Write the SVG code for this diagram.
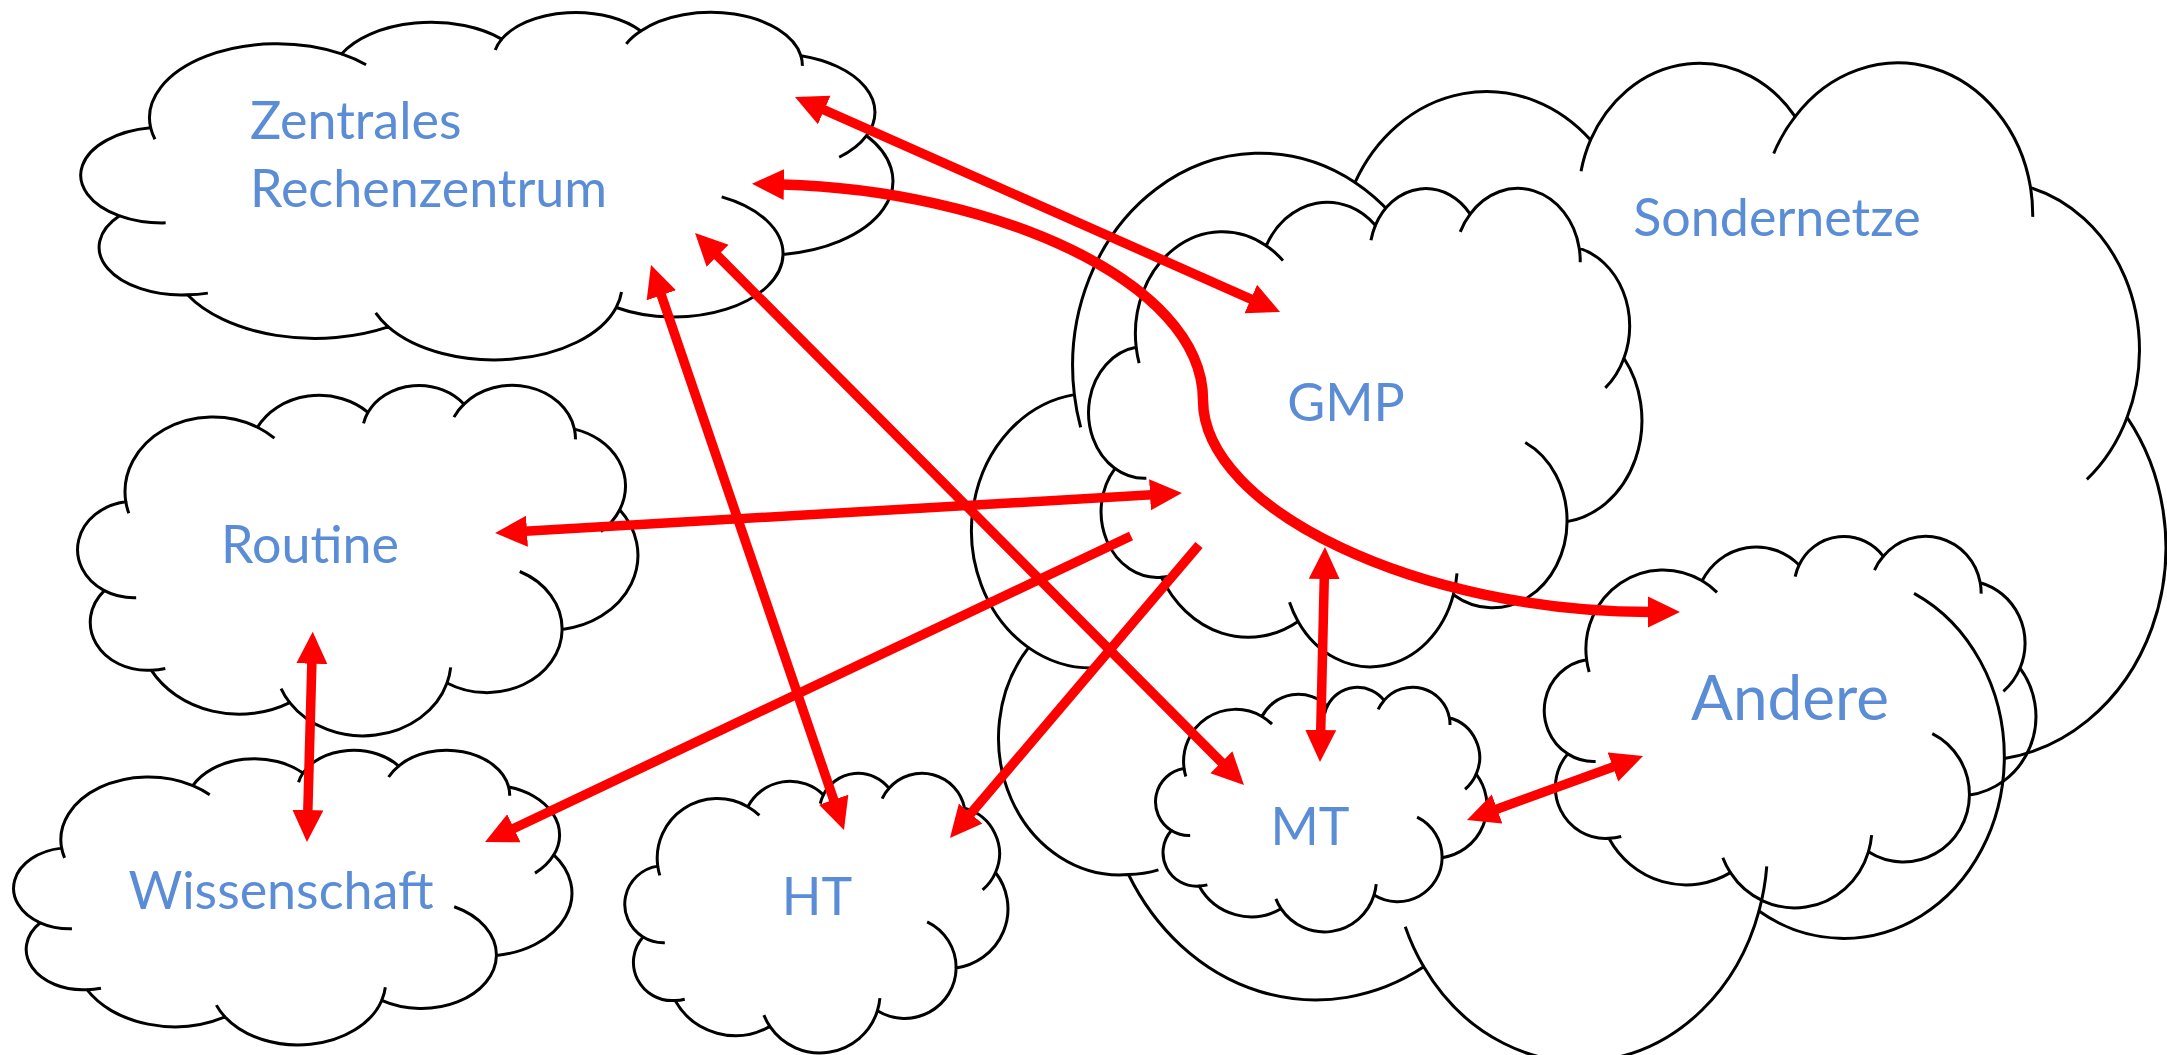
<svg xmlns="http://www.w3.org/2000/svg" width="2167" height="1055" viewBox="0 0 2167 1055">
<style>
.body{stroke:#000;stroke-width:3;vector-effect:non-scaling-stroke;stroke-linejoin:round}
.hook{fill:none;stroke:#000;stroke-width:3;vector-effect:non-scaling-stroke}
.filled{fill:#fff}
.open{fill:none}
.lbl{font-family:Lato,"Open Sans","Liberation Sans",sans-serif;font-size:52px;fill:#5B8DD6}
.big{font-size:62px}
.mid{text-anchor:middle}
.arr{fill:none;stroke:#FF0000;stroke-width:9.5;marker-end:url(#ah)}
.dbl{marker-start:url(#ah)}
.thick{stroke-width:10.5}
</style>
<defs>
<marker id="ah" viewBox="0 -16 32 32" refX="2" refY="0" markerWidth="32" markerHeight="32" markerUnits="userSpaceOnUse" orient="auto-start-reverse">
<path d="M0,-15.5 L32,0 L0,15.5 Z" fill="#FF0000"/>
</marker>
</defs>
<rect width="2167" height="1055" fill="#fff"/>
<g id="sondernetze">
<path class="body filled" transform="translate(966,62) scale(0.027778,0.023148)" d="M3900,14370 A6753,9190 0 0 1 14005,5202 A5333,7267 0 0 1 22484,3368 A4365,5945 0 0 1 29850,2360 A4857,6595 0 0 1 38324,5426 A5333,7273 0 0 1 41798,15354 A6775,9220 0 0 1 37380,30090 A5785,7867 0 0 1 28546,36680 A6752,9215 0 0 1 16478,39090 A7720,10543 0 0 1 5850,35100 A4360,5918 0 0 1 2250,25300 A4345,5945 0 0 1 3900,14370 Z"/>
<path class="hook" transform="translate(966,62) scale(0.027778,0.023148)" d="M4693,26177 A4345,5945 0 0 1 2250,25300 M6928,34899 A4360,5918 0 0 1 5850,35100 M16478,39090 A6752,9215 0 0 1 15813,37359 M28827,34751 A6752,9215 0 0 1 28546,36680 M34129,22954 A5785,7867 0 0 1 37380,30090 M41798,15354 A5333,7273 0 0 1 40350,18030 M38324,5426 A4857,6595 0 0 1 38401,6690 M29078,3952 A4857,6595 0 0 1 29850,2360 M22141,4720 A4365,5945 0 0 1 22484,3368 M14005,5202 A6753,9190 0 0 1 15304,6550 M4127,15789 A6753,9190 0 0 1 3900,14370"/>
<text class="lbl mid" x="1777" y="236">Sondernetze</text>
</g>
<g id="gmp">
<path class="body filled" transform="translate(1086,188) scale(0.012870,0.011088)" d="M3900,14370 A6753,9190 0 0 1 14005,5202 A5333,7267 0 0 1 22484,3368 A4365,5945 0 0 1 29850,2360 A4857,6595 0 0 1 38324,5426 A5333,7273 0 0 1 41798,15354 A6775,9220 0 0 1 37380,30090 A5785,7867 0 0 1 28546,36680 A6752,9215 0 0 1 16478,39090 A7720,10543 0 0 1 5850,35100 A4360,5918 0 0 1 2250,25300 A4345,5945 0 0 1 3900,14370 Z"/>
<path class="hook" transform="translate(1086,188) scale(0.012870,0.011088)" d="M4693,26177 A4345,5945 0 0 1 2250,25300 M6928,34899 A4360,5918 0 0 1 5850,35100 M16478,39090 A6752,9215 0 0 1 15813,37359 M28827,34751 A6752,9215 0 0 1 28546,36680 M34129,22954 A5785,7867 0 0 1 37380,30090 M41798,15354 A5333,7273 0 0 1 40350,18030 M38324,5426 A4857,6595 0 0 1 38401,6690 M29078,3952 A4857,6595 0 0 1 29850,2360 M22141,4720 A4365,5945 0 0 1 22484,3368 M14005,5202 A6753,9190 0 0 1 15304,6550 M4127,15789 A6753,9190 0 0 1 3900,14370"/>
<text class="lbl mid" x="1346" y="421">GMP</text>
</g>
<g id="mt">
<path class="body filled" transform="translate(1154,687) scale(0.0077083,0.0056713)" d="M3900,14370 A6753,9190 0 0 1 14005,5202 A5333,7267 0 0 1 22484,3368 A4365,5945 0 0 1 29850,2360 A4857,6595 0 0 1 38324,5426 A5333,7273 0 0 1 41798,15354 A6775,9220 0 0 1 37380,30090 A5785,7867 0 0 1 28546,36680 A6752,9215 0 0 1 16478,39090 A7720,10543 0 0 1 5850,35100 A4360,5918 0 0 1 2250,25300 A4345,5945 0 0 1 3900,14370 Z"/>
<path class="hook" transform="translate(1154,687) scale(0.0077083,0.0056713)" d="M4693,26177 A4345,5945 0 0 1 2250,25300 M6928,34899 A4360,5918 0 0 1 5850,35100 M16478,39090 A6752,9215 0 0 1 15813,37359 M28827,34751 A6752,9215 0 0 1 28546,36680 M34129,22954 A5785,7867 0 0 1 37380,30090 M41798,15354 A5333,7273 0 0 1 40350,18030 M38324,5426 A4857,6595 0 0 1 38401,6690 M29078,3952 A4857,6595 0 0 1 29850,2360 M22141,4720 A4365,5945 0 0 1 22484,3368 M14005,5202 A6753,9190 0 0 1 15304,6550 M4127,15789 A6753,9190 0 0 1 3900,14370"/>
<text class="lbl mid" x="1310" y="845">MT</text>
</g>
<g id="andere">
<path class="body open" transform="translate(1542,536) scale(0.011435,0.0086111)" d="M3900,14370 A6753,9190 0 0 1 14005,5202 A5333,7267 0 0 1 22484,3368 A4365,5945 0 0 1 29850,2360 A4857,6595 0 0 1 38324,5426 A5333,7273 0 0 1 41798,15354 A6775,9220 0 0 1 37380,30090 A5785,7867 0 0 1 28546,36680 A6752,9215 0 0 1 16478,39090 A7720,10543 0 0 1 5850,35100 A4360,5918 0 0 1 2250,25300 A4345,5945 0 0 1 3900,14370 Z"/>
<path class="hook" transform="translate(1542,536) scale(0.011435,0.0086111)" d="M4693,26177 A4345,5945 0 0 1 2250,25300 M6928,34899 A4360,5918 0 0 1 5850,35100 M16478,39090 A6752,9215 0 0 1 15813,37359 M28827,34751 A6752,9215 0 0 1 28546,36680 M34129,22954 A5785,7867 0 0 1 37380,30090 M41798,15354 A5333,7273 0 0 1 40350,18030 M38324,5426 A4857,6595 0 0 1 38401,6690 M29078,3952 A4857,6595 0 0 1 29850,2360 M22141,4720 A4365,5945 0 0 1 22484,3368 M14005,5202 A6753,9190 0 0 1 15304,6550 M4127,15789 A6753,9190 0 0 1 3900,14370"/>
<text class="lbl big mid" x="1790" y="720">Andere</text>
</g>
<g id="zentrales">
<path class="body filled" transform="translate(77,12) scale(0.018889,0.0080556)" d="M3900,14370 A6753,9190 0 0 1 14005,5202 A5333,7267 0 0 1 22484,3368 A4365,5945 0 0 1 29850,2360 A4857,6595 0 0 1 38324,5426 A5333,7273 0 0 1 41798,15354 A6775,9220 0 0 1 37380,30090 A5785,7867 0 0 1 28546,36680 A6752,9215 0 0 1 16478,39090 A7720,10543 0 0 1 5850,35100 A4360,5918 0 0 1 2250,25300 A4345,5945 0 0 1 3900,14370 Z"/>
<path class="hook" transform="translate(77,12) scale(0.018889,0.0080556)" d="M4693,26177 A4345,5945 0 0 1 2250,25300 M6928,34899 A4360,5918 0 0 1 5850,35100 M16478,39090 A6752,9215 0 0 1 15813,37359 M28827,34751 A6752,9215 0 0 1 28546,36680 M34129,22954 A5785,7867 0 0 1 37380,30090 M41798,15354 A5333,7273 0 0 1 40350,18030 M38324,5426 A4857,6595 0 0 1 38401,6690 M29078,3952 A4857,6595 0 0 1 29850,2360 M22141,4720 A4365,5945 0 0 1 22484,3368 M14005,5202 A6753,9190 0 0 1 15304,6550 M4127,15789 A6753,9190 0 0 1 3900,14370"/>
<text class="lbl" x="250" y="139">Zentrales</text>
<text class="lbl" x="250" y="207">Rechenzentrum</text>
</g>
<g id="routine">
<path class="body filled" transform="translate(75,385) scale(0.013032,0.008125)" d="M3900,14370 A6753,9190 0 0 1 14005,5202 A5333,7267 0 0 1 22484,3368 A4365,5945 0 0 1 29850,2360 A4857,6595 0 0 1 38324,5426 A5333,7273 0 0 1 41798,15354 A6775,9220 0 0 1 37380,30090 A5785,7867 0 0 1 28546,36680 A6752,9215 0 0 1 16478,39090 A7720,10543 0 0 1 5850,35100 A4360,5918 0 0 1 2250,25300 A4345,5945 0 0 1 3900,14370 Z"/>
<path class="hook" transform="translate(75,385) scale(0.013032,0.008125)" d="M4693,26177 A4345,5945 0 0 1 2250,25300 M6928,34899 A4360,5918 0 0 1 5850,35100 M16478,39090 A6752,9215 0 0 1 15813,37359 M28827,34751 A6752,9215 0 0 1 28546,36680 M34129,22954 A5785,7867 0 0 1 37380,30090 M41798,15354 A5333,7273 0 0 1 40350,18030 M38324,5426 A4857,6595 0 0 1 38401,6690 M29078,3952 A4857,6595 0 0 1 29850,2360 M22141,4720 A4365,5945 0 0 1 22484,3368 M14005,5202 A6753,9190 0 0 1 15304,6550 M4127,15789 A6753,9190 0 0 1 3900,14370"/>
<text class="lbl mid" x="310" y="563">Routine</text>
</g>
<g id="wissenschaft">
<path class="body filled" transform="translate(11,750) scale(0.012986,0.0068287)" d="M3900,14370 A6753,9190 0 0 1 14005,5202 A5333,7267 0 0 1 22484,3368 A4365,5945 0 0 1 29850,2360 A4857,6595 0 0 1 38324,5426 A5333,7273 0 0 1 41798,15354 A6775,9220 0 0 1 37380,30090 A5785,7867 0 0 1 28546,36680 A6752,9215 0 0 1 16478,39090 A7720,10543 0 0 1 5850,35100 A4360,5918 0 0 1 2250,25300 A4345,5945 0 0 1 3900,14370 Z"/>
<path class="hook" transform="translate(11,750) scale(0.012986,0.0068287)" d="M4693,26177 A4345,5945 0 0 1 2250,25300 M6928,34899 A4360,5918 0 0 1 5850,35100 M16478,39090 A6752,9215 0 0 1 15813,37359 M28827,34751 A6752,9215 0 0 1 28546,36680 M34129,22954 A5785,7867 0 0 1 37380,30090 M41798,15354 A5333,7273 0 0 1 40350,18030 M38324,5426 A4857,6595 0 0 1 38401,6690 M29078,3952 A4857,6595 0 0 1 29850,2360 M22141,4720 A4365,5945 0 0 1 22484,3368 M14005,5202 A6753,9190 0 0 1 15304,6550 M4127,15789 A6753,9190 0 0 1 3900,14370"/>
<text class="lbl mid" x="281" y="909">Wissenschaft</text>
</g>
<g id="ht">
<path class="body filled" transform="translate(623,773) scale(0.008912,0.0064815)" d="M3900,14370 A6753,9190 0 0 1 14005,5202 A5333,7267 0 0 1 22484,3368 A4365,5945 0 0 1 29850,2360 A4857,6595 0 0 1 38324,5426 A5333,7273 0 0 1 41798,15354 A6775,9220 0 0 1 37380,30090 A5785,7867 0 0 1 28546,36680 A6752,9215 0 0 1 16478,39090 A7720,10543 0 0 1 5850,35100 A4360,5918 0 0 1 2250,25300 A4345,5945 0 0 1 3900,14370 Z"/>
<path class="hook" transform="translate(623,773) scale(0.008912,0.0064815)" d="M4693,26177 A4345,5945 0 0 1 2250,25300 M6928,34899 A4360,5918 0 0 1 5850,35100 M16478,39090 A6752,9215 0 0 1 15813,37359 M28827,34751 A6752,9215 0 0 1 28546,36680 M34129,22954 A5785,7867 0 0 1 37380,30090 M41798,15354 A5333,7273 0 0 1 40350,18030 M38324,5426 A4857,6595 0 0 1 38401,6690 M29078,3952 A4857,6595 0 0 1 29850,2360 M22141,4720 A4365,5945 0 0 1 22484,3368 M14005,5202 A6753,9190 0 0 1 15304,6550 M4127,15789 A6753,9190 0 0 1 3900,14370"/>
<text class="lbl mid" x="817" y="915">HT</text>
</g>
<g id="connectors">
<path class="arr dbl" d="M822.4,109.2 L1252.6,299.8"/>
<path class="arr dbl thick" d="M782,184.5 C990,190 1203,280 1203,400 C1203,510 1420,612 1650,612"/>
<path class="arr dbl" d="M525,531.3 L1152,494.7"/>
<path class="arr dbl" d="M311.9,661.7 L307.8,812"/>
<path class="arr" d="M1131,536 L512.1,829.2"/>
<path class="arr" d="M1199,545 L969.4,815.1"/>
<path class="arr dbl" d="M660.7,293.4 L834.3,801.6"/>
<path class="arr dbl" d="M716.2,254.3 L1222.8,763.7"/>
<path class="arr dbl" d="M1324.3,577 L1320.7,732"/>
<path class="arr dbl" d="M1495.2,809.7 L1614.8,766.3"/>
</g>
</svg>
